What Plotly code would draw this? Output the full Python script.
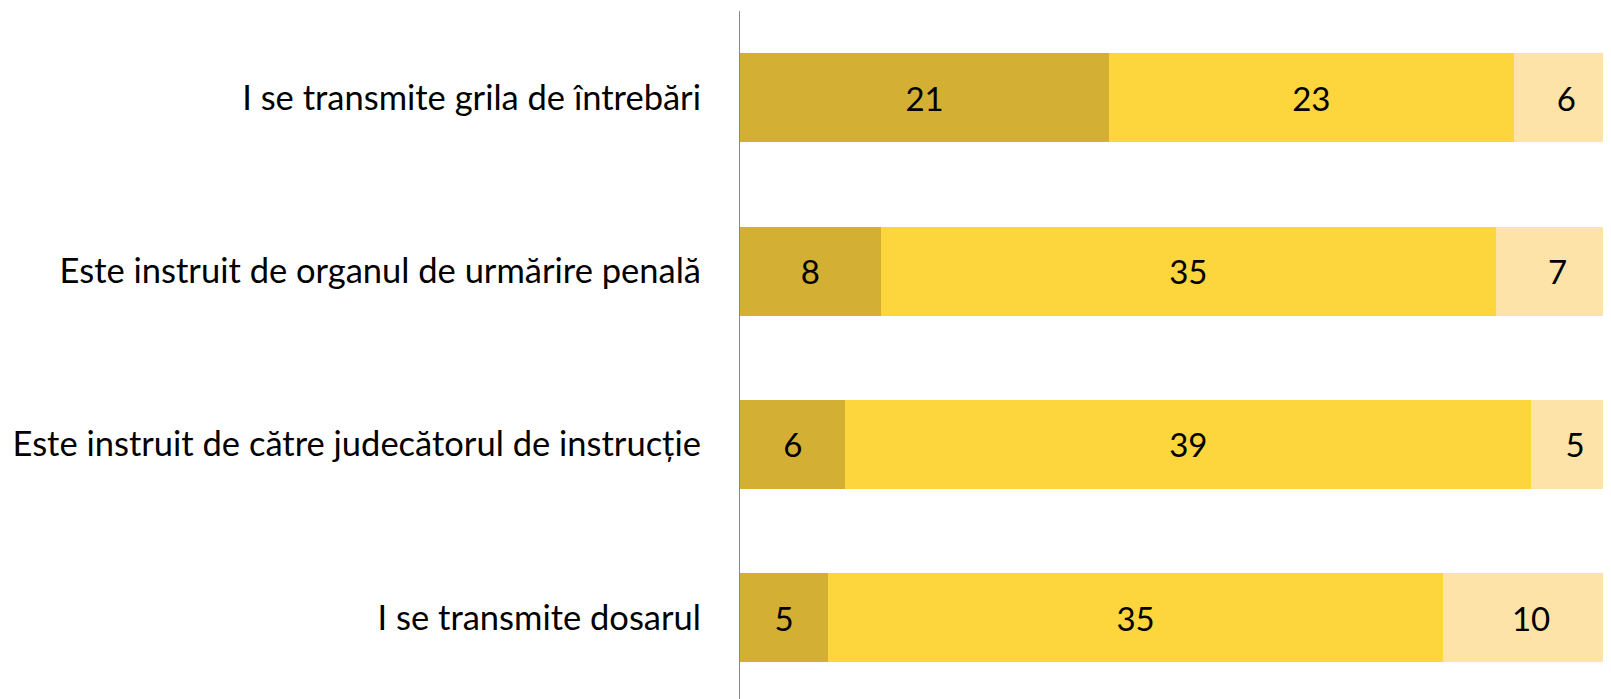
import plotly.graph_objects as go

categories = [
    "I se transmite grila de întrebări",
    "Este instruit de organul de urmărire penală",
    "Este instruit de către judecătorul de instrucție",
    "I se transmite dosarul",
]
series_a = [21, 8, 6, 5]
series_b = [23, 35, 39, 35]
series_c = [6, 7, 5, 10]

colors = ["#D3B034", "#FDD53D", "#FDE3A7"]
FONT = "Lato"

fig = go.Figure()
for vals, col in zip([series_a, series_b, series_c], colors):
    fig.add_trace(go.Bar(
        y=categories,
        x=vals,
        orientation="h",
        marker=dict(color=col, line=dict(width=0)),
        text=[str(v) for v in vals],
        textposition="inside",
        insidetextanchor="middle",
        textangle=0,
        constraintext="none",
        textfont=dict(family=FONT, size=33, color="#000000"),
        hoverinfo="skip",
        showlegend=False,
    ))

fig.update_layout(
    barmode="stack",
    bargap=0.4865,
    width=1603,
    height=691,
    margin=dict(l=732, r=0, t=3, b=0, pad=0),
    paper_bgcolor="white",
    plot_bgcolor="white",
    showlegend=False,
    xaxis=dict(range=[0, 49.545], visible=False, fixedrange=True),
    yaxis=dict(
        range=[3.469, -0.5],
        showline=True,
        linecolor="#898989",
        linewidth=1.3,
        showgrid=False,
        zeroline=False,
        ticks="",
        ticklabelstandoff=31,
        tickfont=dict(family=FONT, size=34.5, color="#000000"),
    ),
)

fig.write_html("out.html")
